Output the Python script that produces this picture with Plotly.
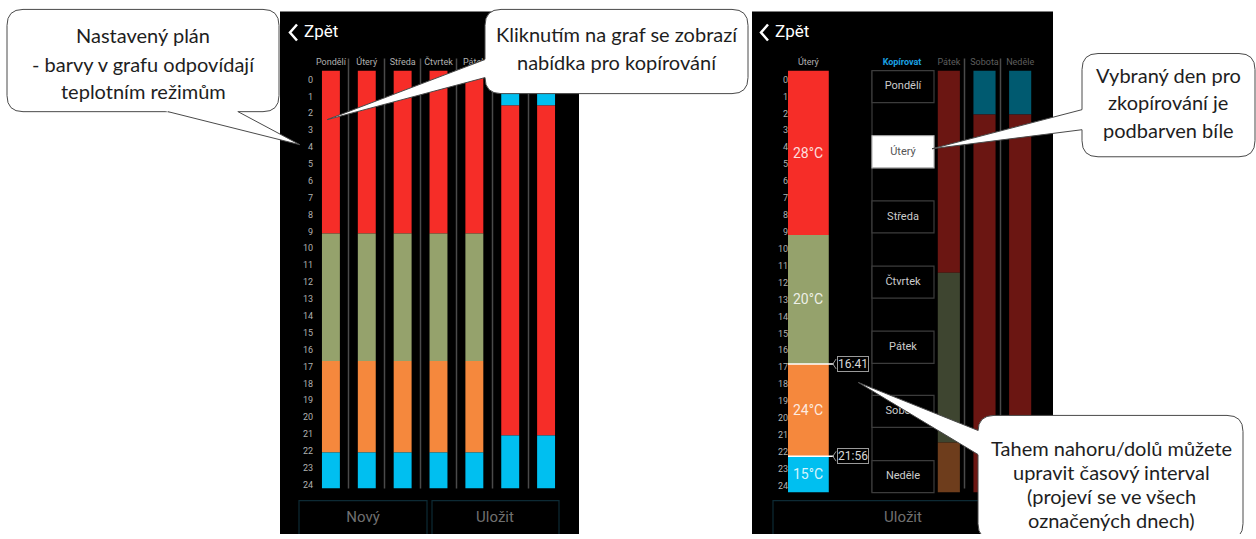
import plotly.graph_objects as go

# ---------------- data ----------------
days = ["Pondělí", "Úterý", "Středa", "Čtvrtek", "Pátek", "Sobota", "Neděle"]
hour_labels = [str(h) for h in range(25)]

# left screen: schedule per day (boundaries in hours, temperature mode per segment)
weekday_bounds = [0, 9.35, 16.68, 21.93, 24]
weekday_modes = ["28", "20", "24", "15"]
weekend_bounds = [0, 2.0, 20.95, 24]
weekend_modes = ["15", "28", "15"]
left_bounds = [weekday_bounds] * 5 + [weekend_bounds] * 2
left_modes = [weekday_modes] * 5 + [weekend_modes] * 2

# right screen: selected day (Úterý) being edited
sel_day = "Úterý"
sel_bounds = [0, 9.35, 16.683, 21.933, 24]
sel_modes = ["28", "20", "24", "15"]
sel_temps = ["28°C", "20°C", "24°C", "15°C"]
marker_times = [16.683, 21.933]
marker_labels = ["16:41", "21:56"]

# right screen: dimmed days
dim_days = ["Pátek", "Sobota", "Neděle"]
dim_bounds = [[0, 11.5, 21.15, 24], [0, 2.5, 24], [0, 2.5, 24]]
dim_modes = [["28", "20", "24"], ["15", "28"], ["15", "28"]]

copy_days = ["Pondělí", "Úterý", "Středa", "Čtvrtek", "Pátek", "Sobota", "Neděle"]
copy_selected = "Úterý"

mode_colors = {"28": "#f62d28", "20": "#95a26c", "24": "#f5883d", "15": "#00bff0"}
dim_colors = {"28": "#6b1612", "20": "#3e4530", "24": "#6e3d1c", "15": "#005a70"}

W, H = 1256, 539
SQ, OFF = 0.979, 3.6          # vertical calibration of the photographed page

fig = go.Figure()

def px_x(p):
    return p / W

def px_y(p):
    return 1 - ((p - OFF) / SQ) / H

# canvas axis (reference-pixel coordinates) for decorations
fig.add_trace(go.Scatter(x=[0], y=[OFF], mode="markers", marker=dict(opacity=0),
                         hoverinfo="skip", showlegend=False, xaxis="x", yaxis="y"))

# ---------------- bars: left screen ----------------
for i, (b, m) in enumerate(zip(left_bounds, left_modes)):
    for k in range(len(m)):
        fig.add_trace(go.Bar(x=[i], base=[b[k]], y=[b[k + 1] - b[k]], width=0.5,
                             marker=dict(color=mode_colors[m[k]], line=dict(width=0)),
                             xaxis="x2", yaxis="y2", hoverinfo="skip", showlegend=False))
fig.add_trace(go.Scatter(x=[0], y=[0], mode="markers", marker=dict(opacity=0),
                         hoverinfo="skip", showlegend=False, xaxis="x2", yaxis="y3"))

# ---------------- bars: right screen selected day ----------------
for k in range(len(sel_modes)):
    fig.add_trace(go.Bar(x=[0], base=[sel_bounds[k]], y=[sel_bounds[k + 1] - sel_bounds[k]], width=1.0,
                         marker=dict(color=mode_colors[sel_modes[k]], line=dict(width=0)),
                         xaxis="x4", yaxis="y4", hoverinfo="skip", showlegend=False))
fig.add_trace(go.Scatter(x=[0], y=[0], mode="markers", marker=dict(opacity=0),
                         hoverinfo="skip", showlegend=False, xaxis="x4", yaxis="y6"))

# ---------------- bars: right screen dimmed days ----------------
for i, (b, m) in enumerate(zip(dim_bounds, dim_modes)):
    for k in range(len(m)):
        fig.add_trace(go.Bar(x=[i], base=[b[k]], y=[b[k + 1] - b[k]], width=0.62,
                             marker=dict(color=dim_colors[m[k]], line=dict(width=0)),
                             xaxis="x5", yaxis="y5", hoverinfo="skip", showlegend=False))

shapes = []
annotations = []

# phone screens
shapes.append(dict(type="rect", xref="x", yref="y", x0=280, x1=579, y0=10, y1=560,
                   fillcolor="black", line=dict(width=0), layer="below"))
shapes.append(dict(type="rect", xref="x", yref="y", x0=752, x1=1053, y0=10, y1=560,
                   fillcolor="black", line=dict(width=0), layer="below"))

# back chevrons
for cx in (290, 761):
    shapes.append(dict(type="path", xref="x", yref="y",
                       path=f"M {cx+7},23 L {cx},31 L {cx+7},39",
                       line=dict(color="white", width=2.5), layer="below"))

# separators
for sx in (348.5, 384.5, 420.5, 456.5, 492.5, 528.5, 964.5, 1000.5):
    shapes.append(dict(type="line", xref="x", yref="y", x0=sx, x1=sx, y0=57, y1=486,
                       line=dict(color="#4a4a4a", width=1.5), layer="below"))

# bottom buttons
for (x0, x1) in ((299, 427), (432, 559), (773, 1031)):
    shapes.append(dict(type="rect", xref="x", yref="y", x0=x0, x1=x1, y0=498, y1=532,
                       fillcolor="black", line=dict(color="#0d2a34", width=1.2), layer="below"))

# copy column
shapes.append(dict(type="line", xref="x", yref="y", x0=872, x1=872, y0=69, y1=490,
                   line=dict(color="#3c3c3c", width=1.2), layer="below"))
box_tops = [69, 134, 199, 264, 329, 393, 458]
for d, t in zip(copy_days, box_tops):
    sel = d == copy_selected
    shapes.append(dict(type="rect", xref="x", yref="y", x0=872, x1=934, y0=t, y1=t + 32,
                       fillcolor="white" if sel else "black",
                       line=dict(color="#bbbbbb" if sel else "#3c3c3c", width=1.2), layer="below"))

# time markers on selected day
for t, lab in zip(marker_times, marker_labels):
    shapes.append(dict(type="line", xref="x4", yref="y4", x0=-0.5, x1=0.62, y0=t, y1=t,
                       line=dict(color="white", width=1.5), layer="above"))
    shapes.append(dict(type="path", xref="x4", yref="y4",
                       path=f"M 0.68,{t-0.28} L 0.6,{t} L 0.68,{t+0.28}",
                       line=dict(color="#9a9a9a", width=1), layer="above"))
    annotations.append(dict(xref="x4", yref="y4", x=1.1, y=t, text=lab, showarrow=False,
                            font=dict(family="Roboto", size=12, color="#d8d8d8"),
                            bordercolor="#9a9a9a", borderwidth=1, borderpad=0, bgcolor="black"))

# temperatures inside selected day bar
for k, lab in enumerate(sel_temps):
    annotations.append(dict(xref="x4", yref="y4", x=0, y=(sel_bounds[k] + sel_bounds[k + 1]) / 2,
                            text=lab, showarrow=False,
                            font=dict(family="Roboto", size=14, color="rgba(255,255,255,0.85)")))

# phone texts (scatter on canvas so callouts can cover them)
txt_x = [304, 775, 902, 363, 495, 903] + [903] * len(copy_days)
txt_y = [31, 31, 61, 516, 516, 516] + [t + 16 for t in box_tops]
txt = ["Zpět", "Zpět", "<b>Kopírovat</b>", "Nový", "Uložit", "Uložit"] + copy_days
txt_col = ["white", "white", "#1ba1e2", "#707070", "#707070", "#707070"] + \
          ["#555555" if d == copy_selected else "#cccccc" for d in copy_days]
txt_size = [17, 17, 9, 15, 15, 15] + [11] * len(copy_days)
txt_pos = ["middle right", "middle right"] + ["middle center"] * (4 + len(copy_days))
fig.add_trace(go.Scatter(x=txt_x, y=txt_y, text=txt, mode="text", textposition=txt_pos,
                         textfont=dict(family="Roboto", size=txt_size, color=txt_col),
                         hoverinfo="skip", showlegend=False, xaxis="x", yaxis="y"))

# ---------------- callouts ----------------
def rrect(x0, y0, x1, y1, r):
    return (f"M {x0+r},{y0} L {x1-r},{y0} Q {x1},{y0} {x1},{y0+r} L {x1},{y1-r} "
            f"Q {x1},{y1} {x1-r},{y1} L {x0+r},{y1} Q {x0},{y1} {x0},{y1-r} "
            f"L {x0},{y0+r} Q {x0},{y0} {x0+r},{y0} Z")

def callout(box, b1, b2, tip, lines, ys, cx):
    x0, y0, x1, y1 = box
    shapes.append(dict(type="path", xref="x", yref="y", path=rrect(x0, y0, x1, y1, 16),
                       fillcolor="white", line=dict(color="#4a4a4a", width=1), layer="above"))
    def ext(b):
        dx, dy = b[0] - tip[0], b[1] - tip[1]
        n = (dx * dx + dy * dy) ** 0.5
        return (b[0] + dx / n * 4, b[1] + dy / n * 4)
    e1, e2 = ext(b1), ext(b2)
    shapes.append(dict(type="path", xref="x", yref="y",
                       path=f"M {e1[0]},{e1[1]} L {tip[0]},{tip[1]} L {e2[0]},{e2[1]} Z",
                       fillcolor="white", line=dict(width=0), layer="above"))
    for b in (b1, b2):
        shapes.append(dict(type="line", xref="x", yref="y", x0=b[0], y0=b[1], x1=tip[0], y1=tip[1],
                           line=dict(color="#4a4a4a", width=1), layer="above"))
    for ln, yy in zip(lines, ys):
        annotations.append(dict(xref="x", yref="y", x=cx, y=yy, text=ln, showarrow=False,
                                font=dict(family="Lato", size=20, color="#1e1e1e")))

callout((7, 8, 279, 110), (168, 110), (238, 110), (300, 143),
        ["Nastavený plán", "- barvy v grafu odpovídají", "teplotním režimům"], [34, 62, 89], 143)
callout((485, 8, 748, 92), (485, 58), (485, 76), (327, 118),
        ["Kliknutím na graf se zobrazí", "nabídka pro kopírování"], [33, 60], 617)
callout((1082, 52, 1255, 155), (1082, 108), (1082, 128), (932, 147),
        ["Vybraný den pro", "zkopírování je", "podbarven bíle"], [73, 100, 128], 1168)
callout((978, 413, 1243, 537), (978, 428), (978, 452), (858, 380),
        ["Tahem nahoru/dolů můžete", "upravit časový interval", "(projeví se ve všech",
         "označených dnech)"], [445, 469, 493, 517], 1111)

noax = dict(showgrid=False, zeroline=False, showline=False, ticks="")
lab_font = dict(family="Roboto", size=9, color="#b0b0b0")

fig.update_layout(
    width=W, height=H, autosize=False,
    margin=dict(l=0, r=0, t=0, b=0),
    paper_bgcolor="white", plot_bgcolor="rgba(0,0,0,0)",
    barmode="overlay", showlegend=False,
    xaxis=dict(domain=[0, 1], range=[0, W], visible=False, fixedrange=True),
    yaxis=dict(domain=[0, 1], range=[H * SQ + OFF, OFF], visible=False, fixedrange=True),
    xaxis2=dict(domain=[px_x(313), px_x(564)], range=[-0.5, 6.5], anchor="y2", side="top",
                tickvals=list(range(7)), ticktext=days, tickfont=lab_font,
                ticklabelstandoff=3, **noax),
    yaxis2=dict(domain=[px_y(486), px_y(69)], range=[24, 0], anchor="x2", visible=False),
    yaxis3=dict(domain=[px_y(482), px_y(78)], range=[24, 0], anchor="free", position=px_x(313),
                tickvals=list(range(25)), ticktext=hour_labels, tickfont=lab_font, **noax),
    xaxis4=dict(domain=[px_x(788), px_x(880)], range=[-0.5, 1.756], anchor="y4", side="top",
                tickvals=[0], ticktext=[sel_day], tickfont=lab_font,
                ticklabelstandoff=3, **noax),
    yaxis4=dict(domain=[px_y(490), px_y(69)], range=[24, 0], anchor="x4", visible=False),
    yaxis6=dict(domain=[px_y(483), px_y(78)], range=[24, 0], anchor="free", position=px_x(788),
                tickvals=list(range(25)), ticktext=hour_labels, tickfont=lab_font, **noax),
    xaxis5=dict(domain=[px_x(931), px_x(1038)], range=[-0.5, 2.5], anchor="y5", side="top",
                tickvals=list(range(3)), ticktext=dim_days,
                tickfont=dict(family="Roboto", size=9, color="#5e5e5e"),
                ticklabelstandoff=3, **noax),
    yaxis5=dict(domain=[px_y(490), px_y(69)], range=[24, 0], anchor="x5", visible=False),
    shapes=shapes, annotations=annotations,
)

post = ("document.body.style.margin='0px';document.body.style.padding='0px';"
        "var d=document.getElementById('{plot_id}');d.style.position='absolute';"
        "d.style.left='0px';d.style.top='0px';")
fig.write_html("out.html", post_script=post, config={"displayModeBar": False})
